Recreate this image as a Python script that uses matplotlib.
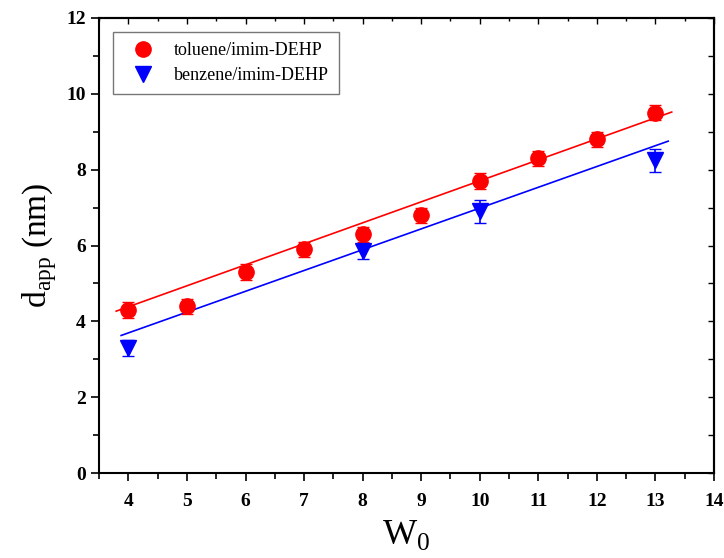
import numpy as np
from matplotlib import pyplot as plt
from matplotlib.lines import Line2D
from matplotlib.ticker import MultipleLocator

plt.rcParams['font.family'] = ['Liberation Serif', 'DejaVu Serif']
plt.rcParams['mathtext.fontset'] = 'custom'
plt.rcParams['mathtext.rm'] = 'Liberation Serif'

# toluene/imim-DEHP
w_tol = [4, 5, 6, 7, 8, 9, 10, 11, 12, 13]
d_tol = [4.3, 4.4, 5.3, 5.9, 6.3, 6.8, 7.7, 8.3, 8.8, 9.5]
err_tol = [0.2, 0.2, 0.2, 0.2, 0.2, 0.2, 0.2, 0.2, 0.2, 0.2]

# benzene/imim-DEHP
w_ben = [4, 8, 10, 13]
d_ben = [3.3, 5.85, 6.9, 8.25]
err_ben = [0.2, 0.2, 0.3, 0.3]

# linear fits as drawn (slope, intercept, x range)
fit_tol = (0.553, 2.174, 3.79, 13.28)
fit_ben = (0.548, 1.506, 3.875, 13.22)

fig = plt.figure(figsize=(7.24, 5.58), dpi=100)
ax = fig.add_axes([0.137, 0.152, 0.849, 0.816])

for fit, col in [(fit_tol, 'red'), (fit_ben, 'blue')]:
    a, b, x0, x1 = fit
    xx = np.array([x0, x1])
    ax.plot(xx, a * xx + b, color=col, linewidth=1.2, zorder=2)

ax.errorbar(w_tol, d_tol, yerr=err_tol, fmt='o', color='red', markersize=11,
            ecolor='red', elinewidth=1.2, capsize=4, zorder=3)
ax.errorbar(w_ben, d_ben, yerr=err_ben, fmt='v', color='blue', markersize=12,
            ecolor='blue', elinewidth=1.2, capsize=4, zorder=3)

ax.set_xlim(3.5, 14)
ax.set_ylim(0, 12)
ax.xaxis.set_major_locator(MultipleLocator(1))
ax.xaxis.set_minor_locator(MultipleLocator(0.5))
ax.yaxis.set_major_locator(MultipleLocator(2))
ax.yaxis.set_minor_locator(MultipleLocator(1))
ax.set_xticks(range(4, 15))

ax.tick_params(axis='both', which='major', direction='out', length=6, width=1.2,
               labelsize=14, top=False, right=False)
ax.tick_params(axis='both', which='minor', direction='out', length=4, width=1.2)
for lab in ax.get_xticklabels() + ax.get_yticklabels():
    lab.set_fontweight('bold')
ax.tick_params(axis='x', pad=8)

# inward ticks on top and right
axt = ax.secondary_xaxis('top')
axt.xaxis.set_major_locator(MultipleLocator(1))
axt.xaxis.set_minor_locator(MultipleLocator(0.5))
axt.tick_params(which='both', direction='in', labeltop=False, width=1.0)
axt.tick_params(which='major', length=4)
axt.tick_params(which='minor', length=2)
axr = ax.secondary_yaxis('right')
axr.yaxis.set_major_locator(MultipleLocator(2))
axr.yaxis.set_minor_locator(MultipleLocator(1))
axr.tick_params(which='both', direction='in', labelright=False, width=1.0)
axr.tick_params(which='major', length=4)
axr.tick_params(which='minor', length=4)

for s in ax.spines.values():
    s.set_linewidth(1.5)
for s in list(axt.spines.values()) + list(axr.spines.values()):
    s.set_linewidth(1.5)

ax.set_xlabel(r'W$_0$', fontsize=26, labelpad=6)
ax.set_ylabel(r'd$_{\mathrm{app}}$ (nm)', fontsize=24, labelpad=5)

handles = [Line2D([], [], marker='o', color='red', linestyle='none', markersize=11),
           Line2D([], [], marker='v', color='blue', linestyle='none', markersize=12)]
labels = ['toluene/imim-DEHP', 'benzene/imim-DEHP']
leg = ax.legend(handles, labels, loc='upper left', bbox_to_anchor=(0.023, 0.969),
                borderaxespad=0, fontsize=13, frameon=True, fancybox=False,
                edgecolor='#555555', handletextpad=0.6, borderpad=0.55,
                labelspacing=0.45, handlelength=2.2)
leg.get_frame().set_linewidth(1.0)

fig.savefig('out.png', dpi=100)
